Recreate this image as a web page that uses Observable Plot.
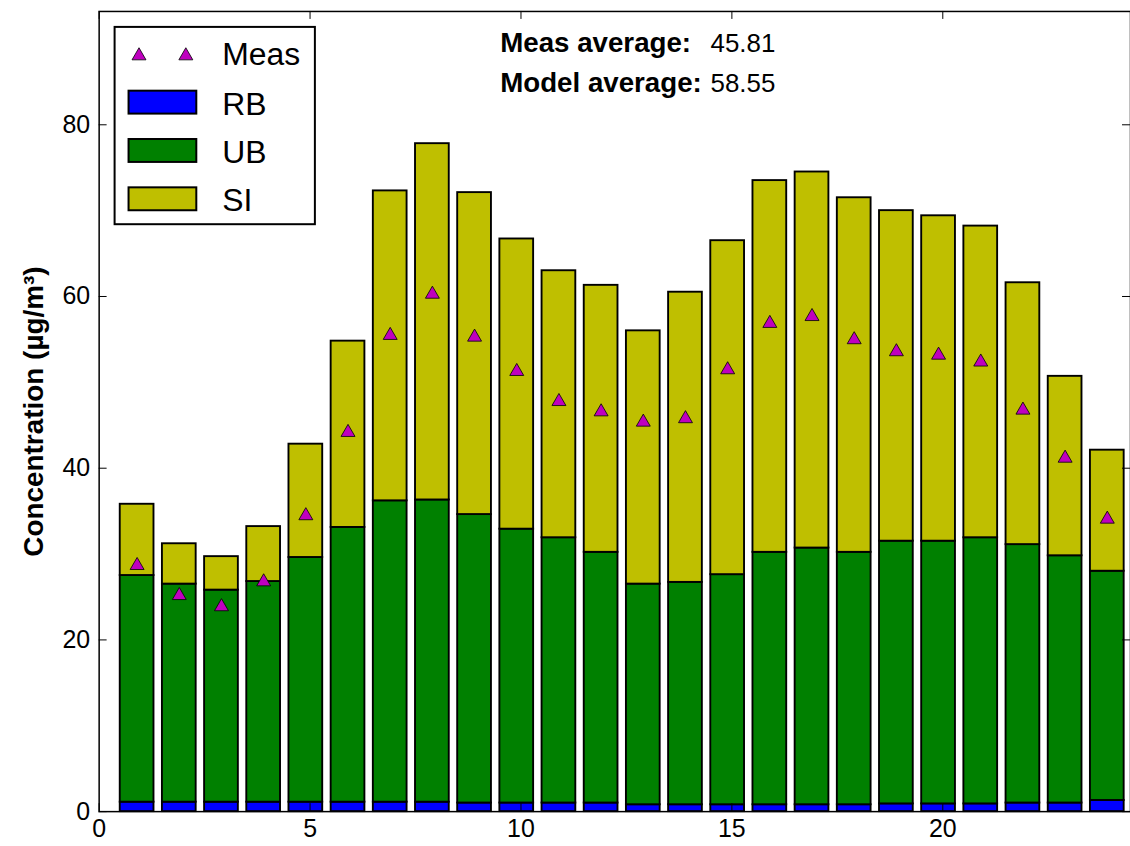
<!DOCTYPE html>
<html><head><meta charset="utf-8">
<script src="https://cdn.jsdelivr.net/npm/d3@7"></script>
<script src="https://cdn.jsdelivr.net/npm/@observablehq/plot@0.6"></script>
<style>
html,body{margin:0;padding:0;background:#fff;overflow:hidden;width:1130px;height:846px}
#chart{position:relative;width:1130px;height:846px;overflow:hidden}
</style></head><body><div id="chart"></div>
<script>
// ---- data ----
const hours = [1,2,3,4,5,6,7,8,9,10,11,12,13,14,15,16,17,18,19,20,21,22,23,24];
const rb = [1.1,1.1,1.1,1.1,1.1,1.1,1.1,1.1,1.0,1.0,1.0,1.0,0.8,0.8,0.8,0.8,0.8,0.8,0.9,0.9,0.9,1.0,1.0,1.3];
const ub = [26.4,25.4,24.7,25.7,28.5,32.0,35.1,35.2,33.6,31.9,30.9,29.2,25.7,25.9,26.8,29.4,29.9,29.4,30.6,30.6,31.0,30.1,28.8,26.7];
const si = [8.3,4.7,3.9,6.4,13.2,21.7,36.1,41.5,37.5,33.8,31.1,31.1,29.5,33.8,38.9,43.3,43.8,41.3,38.5,37.9,36.3,30.5,20.9,14.1];
const meas = [28.9,25.4,24.1,27.0,34.7,44.4,55.7,60.5,55.5,51.5,48.0,46.8,45.6,46.0,51.7,57.1,57.9,55.2,53.8,53.4,52.6,47.0,41.4,34.3];
const components = ["RB","UB","SI"];
const compColors = ["#0000ff","#008000","#bfbf00"];
const measColor = "#bf00bf";
const xTicks = [0,5,10,15,20];
const yTicks = [0,20,40,60,80];
const statLabels = ["Meas average:","Model average:"];
const statValues = ["45.81","58.55"];
const yLabel = "Concentration (\u00b5g/m\u00b3)";

// ---- build stacked table ----
const series = [rb, ub, si];
const bars = [];
hours.forEach((h, i) => {
  let base = 0;
  components.forEach((c, k) => {
    const v = series[k][i];
    bars.push({x1: h - 0.5, x2: h + 0.3, y1: base, y2: base + v, comp: c});
    base += v;
  });
});
const measData = hours.map((h, i) => ({x: h - 0.1, y: meas[i]}));
const colorOf = Object.fromEntries(components.map((c, k) => [c, compColors[k]]));

const font = "'Liberation Sans', Arial, Helvetica, sans-serif";
const W = 1134, H = 846, ML = 99, MR = 0, MT = 11, MB = 32;
const frameH = H - MT - MB, frameW = W - ML - MR;
const tickLen = 8;

const svg = Plot.plot({
  width: W, height: H,
  marginLeft: ML, marginRight: MR, marginTop: MT, marginBottom: MB,
  x: {domain: [0, 24.45]},
  y: {domain: [0, 93.2]},
  style: {fontFamily: font, background: "white", color: "black", overflow: "visible"},
  marks: [
    Plot.rect(bars, {x1: "x1", x2: "x2", y1: "y1", y2: "y2", fill: d => colorOf[d.comp], stroke: "black", strokeWidth: 1.9}),
    Plot.dot(measData, {x: "x", y: "y", symbol: "triangle", r: 5.2, fill: measColor, stroke: "black", strokeWidth: 0.8, dy: 2}),
    Plot.ruleX(xTicks, {x: d => d, insetTop: frameH - tickLen, stroke: "black", strokeWidth: 1}),
    Plot.ruleX(xTicks, {x: d => d, insetBottom: frameH - tickLen, stroke: "black", strokeWidth: 1}),
    Plot.ruleY(yTicks, {y: d => d, insetRight: frameW - tickLen, stroke: "black", strokeWidth: 1}),
    Plot.ruleY(yTicks, {y: d => d, insetLeft: frameW - tickLen, stroke: "black", strokeWidth: 1}),
    Plot.frame({stroke: "black", strokeWidth: 1.5}),
    Plot.axisX({anchor: "bottom", ticks: xTicks, tickSize: 0, tickPadding: 8, fontSize: 25, label: null, tickFormat: d => String(d)}),
    Plot.axisY({anchor: "left", ticks: yTicks, tickSize: 0, tickPadding: 9, fontSize: 25, label: null, tickFormat: d => String(d)}),
    Plot.text([yLabel], {text: d => d, frameAnchor: "left", dx: -65, rotate: -90, fontSize: 28, fontWeight: "bold", textAnchor: "middle", lineAnchor: "middle"})
  ]
});

// ---- legend and annotation overlay ----
const g = d3.select(svg).append("g").attr("font-family", font).attr("text-anchor", "start").attr("fill", "black");
g.append("rect").attr("x", 115).attr("y", 27).attr("width", 201).attr("height", 198)
  .attr("fill", "white").attr("stroke", "black").attr("stroke-width", 2);
const tri = d3.symbol(d3.symbolTriangle, 85)();
[139.5, 186.5].forEach(cx => {
  g.append("path").attr("d", tri).attr("transform", `translate(${cx},${54 + 2})`)
    .attr("fill", measColor).attr("stroke", "black").attr("stroke-width", 0.8);
});
g.append("text").attr("x", 223).attr("y", 65.5).attr("font-size", 32).text("Meas");
const patchY = [91, 139.5, 188];
components.forEach((c, k) => {
  g.append("rect").attr("x", 129).attr("y", patchY[k]).attr("width", 68).attr("height", 23)
    .attr("fill", compColors[k]).attr("stroke", "black").attr("stroke-width", 2);
  g.append("text").attr("x", 223).attr("y", patchY[k] + 24).attr("font-size", 32).text(c);
});
const statY = [52, 92];
statLabels.forEach((s, k) => {
  g.append("text").attr("x", 502).attr("y", statY[k]).attr("font-size", 27.8).attr("font-weight", "bold").text(s);
  g.append("text").attr("x", 713).attr("y", statY[k]).attr("font-size", 26).text(statValues[k]);
});

document.getElementById("chart").appendChild(svg);
</script>
</body></html>
